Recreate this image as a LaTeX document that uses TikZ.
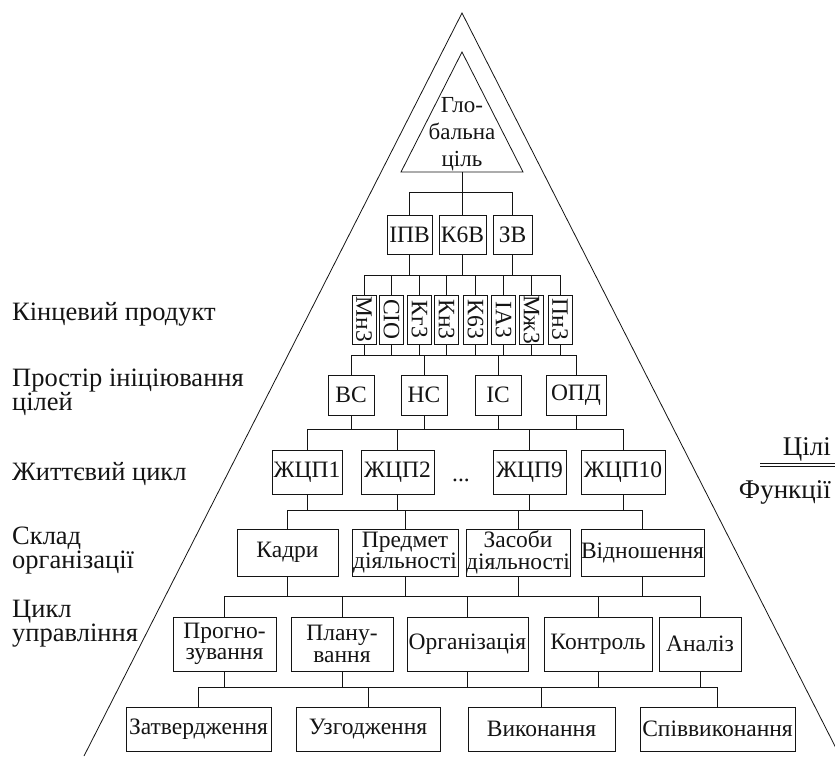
\documentclass[tikz,border=0pt]{standalone}
\usepackage{fontspec}
\setmainfont{Liberation Serif}
\usepackage{graphicx}
\colorlet{ink}{black!92}
\tikzset{
  ln/.style={line width=0.8pt, draw=ink},
  bx/.style={draw=ink, line width=0.8pt, inner sep=0pt, text=ink, align=center,
             font=\fontsize{23.5}{21.5}\selectfont},
  lbl/.style={text=ink, align=left, anchor=base west, inner sep=0pt,
             font=\fontsize{26.5}{24}\selectfont},
  side/.style={text=ink, anchor=base east, inner sep=0pt, font=\fontsize{27}{24}\selectfont},
}
% \mybox{name}{cx}{cy}{w}{h}{text}
\newcommand\mybox[6]{\node[bx, minimum width=#4pt, minimum height=#5pt] (#1) at (#2,#3) {#6};}
\newcommand\mybus[3]{%
  \foreach \p in {#1} {\draw[ln] (\p.south) -- (\p.south |- #3);}
  \foreach \c in {#2} {\draw[ln] (\c.north) -- (\c.north |- #3);}}
\begin{document}
\begin{tikzpicture}[x=1pt,y=-1pt]
\useasboundingbox (0,0) rectangle (835,756);
\clip (0,0) rectangle (835,756);
% outer pyramid
\coordinate (apex) at (462,13);
\coordinate (baseL) at (84,756);
\coordinate (baseR) at (840,756);
\draw[ln] (baseL) -- (apex) -- (baseR);
% inner triangle (global goal)
\coordinate (gtop) at (462,52);
\coordinate (gbl) at (401,172);
\coordinate (gbr) at (523,172);
\coordinate (gbase) at (462,172);
\draw[ln] (gbl) -- (gtop) -- (gbr) -- cycle;
\node[text=ink, align=center, inner sep=0pt, font=\fontsize{23}{27}\selectfont] (gt) at (462,134) {Гло-\\бальна\\ціль};
% bar levels
\coordinate (y1) at (0,192);
\coordinate (y2) at (0,275);
\coordinate (y3) at (0,355);
\coordinate (y4) at (0,429);
\coordinate (y5) at (0,510);
\coordinate (y6) at (0,596);
\coordinate (y7) at (0,687);
% level 1
\mybox{ipv}{409.5}{234.5}{45}{39}{ІПВ}
\mybox{k6v}{462.5}{234.5}{47}{39}{К6В}
\mybox{zv}{512.5}{234.5}{39}{39}{ЗВ}
% level 2 (vertical)
\mybox{v1}{364}{319.5}{24}{49}{\rotatebox{-90}{Мн3}}
\mybox{v2}{391.5}{319.5}{24}{49}{\rotatebox{-90}{СІО}}
\mybox{v3}{419.5}{319.5}{24}{49}{\rotatebox{-90}{Кг3}}
\mybox{v4}{446.5}{319.5}{24}{49}{\rotatebox{-90}{Кн3}}
\mybox{v5}{475.5}{319.5}{24}{49}{\rotatebox{-90}{К63}}
\mybox{v6}{503.5}{319.5}{24}{49}{\rotatebox{-90}{ІА3}}
\mybox{v7}{531.5}{319.5}{24}{49}{\rotatebox{-90}{Мж3}}
\mybox{v8}{560}{319.5}{24}{49}{\rotatebox{-90}{Пн3}}
% level 3
\mybox{vs}{351}{395}{46}{40}{ВС}
\mybox{ns}{424}{395}{46}{40}{НС}
\mybox{is}{498}{395}{46}{40}{ІС}
\mybox{opd}{576}{395}{60}{40}{ОПД}
% level 4
\mybox{z1}{307}{472}{70}{44}{ЖЦП1}
\mybox{z2}{397.5}{472}{73}{44}{ЖЦП2}
\node[text=ink, inner sep=0pt, anchor=base, font=\fontsize{23.5}{21}\selectfont] (dots) at (461,481) {...};
\mybox{z9}{529.5}{472}{73}{44}{ЖЦП9}
\mybox{z10}{623}{472}{84}{44}{ЖЦП10}
% level 5
\mybox{kadry}{287.5}{552.5}{101}{47}{Кадри}
\mybox{predm}{405}{552.5}{106}{47}{Предмет\\діяльності}
\mybox{zasob}{518}{552.5}{102}{47}{Засоби\\діяльності}
\mybox{vidn}{642.5}{552.5}{123}{47}{Відношення}
% level 6
\mybox{progn}{224.5}{644}{103}{54}{Прогно-\\зування}
\mybox{plan}{342}{644}{102}{54}{Плану-\\вання}
\mybox{org}{467.5}{644}{121}{54}{Організація}
\mybox{kontr}{598}{644}{108}{54}{Контроль}
\mybox{anal}{700}{644}{82}{54}{Аналіз}
% level 7
\mybox{zatv}{198.5}{729}{145}{44}{Затвердження}
\mybox{uzg}{368}{729}{144}{44}{Узгодження}
\mybox{vyk}{541.5}{729}{147}{44}{Виконання}
\mybox{spiv}{717.5}{729}{155}{44}{Співвиконання}
% connectors
\draw[ln] (gbase) -- (gbase |- y1);
\draw[ln] (ipv.north |- y1) -- (zv.north |- y1);
\mybus{}{ipv,k6v,zv}{y1}
\draw[ln] (v1.north |- y2) -- (v8.north |- y2);
\mybus{ipv,k6v,zv}{v1,v2,v3,v4,v5,v6,v7,v8}{y2}
\draw[ln] (vs.north |- y3) -- (opd.north |- y3);
\mybus{v1,v2,v3,v4,v5,v6,v7,v8}{vs,ns,is,opd}{y3}
\draw[ln] (z1.north |- y4) -- (z10.north |- y4);
\mybus{vs,ns,is,opd}{z1,z2,z9,z10}{y4}
\draw[ln] (kadry.north |- y5) -- (vidn.north |- y5);
\mybus{z1,z2,z9,z10}{kadry,predm,zasob,vidn}{y5}
\draw[ln] (progn.north |- y6) -- (anal.north |- y6);
\mybus{kadry,predm,zasob,vidn}{progn,plan,org,kontr,anal}{y6}
\draw[ln] (zatv.north |- y7) -- (spiv.north |- y7);
\mybus{progn,plan,org,kontr,anal}{zatv,uzg,vyk,spiv}{y7}
% left labels (base = baseline of last line)
\node[lbl] (l1) at (12,320) {Кінцевий продукт};
\node[lbl] (l2) at (12,410) {Простір ініціювання\\цілей};
\node[lbl] (l3) at (12,480) {Життєвий цикл};
\node[lbl] (l4) at (12,568) {Склад\\організації};
\node[lbl] (l5) at (12,641) {Цикл\\управління};
% right: goals / functions
\node[side] (goals) at (831,455) {Цілі};
\node[side] (funcs) at (831,498) {Функції};
\coordinate (r1a) at (760,463);
\coordinate (r1b) at (835,463);
\coordinate (r2a) at (760,466.5);
\coordinate (r2b) at (835,466.5);
\draw[ln] (r1a) -- (r1b);
\draw[ln] (r2a) -- (r2b);
\end{tikzpicture}
\end{document}
